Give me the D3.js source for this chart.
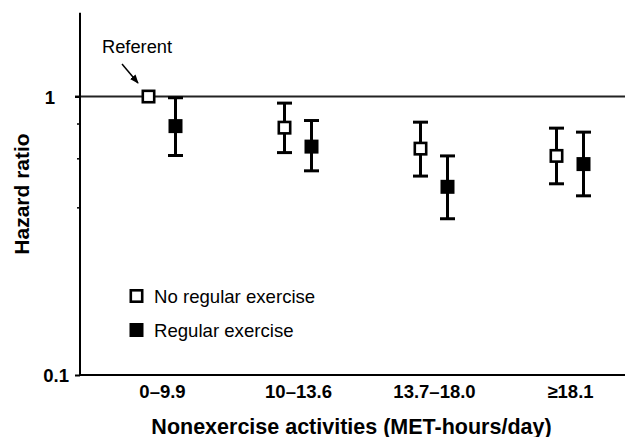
<!DOCTYPE html>
<html>
<head>
<meta charset="utf-8">
<script src="https://cdn.jsdelivr.net/npm/d3@7"></script>
<style>
  html, body { margin: 0; padding: 0; background: #fff; }
  svg { display: block; font-family: "Liberation Sans", Arial, sans-serif; }
</style>
</head>
<body>
<svg id="chart" width="628" height="437"></svg>
<script>
// ---- Data ----
const categories = ["0–9.9", "10–13.6", "13.7–18.0", "≥18.1"];
const noExerciseHR = [1.00, 0.773, 0.650, 0.612];
const noExerciseLow = [null, 0.629, 0.518, 0.486];
const noExerciseHigh = [null, 0.947, 0.809, 0.770];
const exerciseHR = [0.783, 0.661, 0.474, 0.572];
const exerciseLow = [0.614, 0.541, 0.364, 0.440];
const exerciseHigh = [0.990, 0.820, 0.612, 0.745];
const yTickValues = [0.1, 0.4, 0.6, 0.8, 1];
const yLabeled = [0.1, 1];
const seriesNames = ["No regular exercise", "Regular exercise"];

(function () {
// ---- Layout ----
const svg = d3.select("#chart");
const pLeft = 80, pRight = 625, pTop = 12.7, pBottom = 375;

const y = d3.scaleLog().domain([0.1, 2]).range([pBottom, pTop]);
const x = d3.scalePoint().domain(categories).range([pLeft + 82, pRight - 55]);
const offset = 13.5;

// Reference line at 1
svg.append("line")
  .attr("x1", pLeft - 5).attr("x2", pRight)
  .attr("y1", y(1)).attr("y2", y(1))
  .attr("stroke", "#222").attr("stroke-width", 2);

// Y axis
const yAxis = d3.axisLeft(y)
  .tickValues(yTickValues)
  .tickFormat(d => yLabeled.includes(d) ? d3.format("")(d) : "")
  .tickSizeOuter(0);
const gy = svg.append("g").attr("transform", `translate(${pLeft},0)`).call(yAxis);
gy.select(".domain").attr("stroke", "#000").attr("stroke-width", 2)
  .attr("d", `M0,${pTop}V${pBottom}`);
gy.selectAll(".tick line")
  .attr("stroke", "#000").attr("stroke-width", d => yLabeled.includes(d) ? 2 : 1.5)
  .attr("x2", d => yLabeled.includes(d) ? -5 : -3);
gy.selectAll(".tick text")
  .attr("font-size", 18.5).attr("font-weight", "bold").attr("fill", "#000")
  .attr("font-family", "Liberation Sans, Arial, sans-serif")
  .attr("x", d => d === 1 ? -25 : -11)
  .attr("dy", "0.36em");

// X axis line
svg.append("line")
  .attr("x1", pLeft - 1).attr("x2", pRight)
  .attr("y1", pBottom).attr("y2", pBottom)
  .attr("stroke", "#000").attr("stroke-width", 2);

const xAxis = d3.axisBottom(x).tickSize(0).tickPadding(0);
const gx = svg.append("g").attr("transform", `translate(0,${pBottom})`).call(xAxis);
gx.select(".domain").remove();
gx.selectAll(".tick text")
  .attr("font-size", 18.5).attr("font-weight", "bold").attr("fill", "#000")
  .attr("font-family", "Liberation Sans, Arial, sans-serif")
  .attr("dy", null).attr("y", 22.5);

// Axis titles
svg.append("text")
  .attr("x", (pLeft + pRight) / 2 - 1).attr("y", 433.5)
  .attr("text-anchor", "middle")
  .attr("font-size", 21.5).attr("font-weight", "bold")
  .text("Nonexercise activities (MET-hours/day)");

svg.append("text")
  .attr("transform", "translate(28.5,194) rotate(-90)")
  .attr("text-anchor", "middle")
  .attr("font-size", 21).attr("font-weight", "bold")
  .text("Hazard ratio");

// Error bars + markers
const capW = 15, sq = 14, sw = 3;
function drawSeries(hr, lo, hi, dx, filled) {
  const g = svg.append("g");
  categories.forEach((c, i) => {
    const cx = x(c) + dx;
    if (lo[i] != null && hi[i] != null) {
      g.append("line").attr("x1", cx).attr("x2", cx)
        .attr("y1", y(hi[i])).attr("y2", y(lo[i]))
        .attr("stroke", "#000").attr("stroke-width", sw);
      [lo[i], hi[i]].forEach(v => {
        g.append("line").attr("x1", cx - capW / 2).attr("x2", cx + capW / 2)
          .attr("y1", y(v)).attr("y2", y(v))
          .attr("stroke", "#000").attr("stroke-width", sw);
      });
    }
    if (filled) {
      g.append("rect").attr("x", cx - sq / 2).attr("y", y(hr[i]) - sq / 2)
        .attr("width", sq).attr("height", sq).attr("fill", "#000");
    } else {
      g.append("rect").attr("x", cx - (sq - 2.6) / 2).attr("y", y(hr[i]) - (sq - 2.6) / 2)
        .attr("width", sq - 2.6).attr("height", sq - 2.6)
        .attr("fill", "#fff").attr("stroke", "#000").attr("stroke-width", 2.6);
    }
  });
}
drawSeries(noExerciseHR, noExerciseLow, noExerciseHigh, -offset, false);
drawSeries(exerciseHR, exerciseLow, exerciseHigh, offset, true);

// Referent annotation
svg.append("defs").append("marker")
  .attr("id", "arrow").attr("viewBox", "0 0 10 10")
  .attr("refX", 9).attr("refY", 5)
  .attr("markerWidth", 6).attr("markerHeight", 6)
  .attr("orient", "auto")
  .append("path").attr("d", "M0,1L10,5L0,9Z").attr("fill", "#000");
svg.append("text").attr("x", 102).attr("y", 52.5)
  .attr("font-size", 18.3).text("Referent");
svg.append("line")
  .attr("x1", 122).attr("y1", 64).attr("x2", 138).attr("y2", 83)
  .attr("stroke", "#000").attr("stroke-width", 1.5)
  .attr("marker-end", "url(#arrow)");

// Legend
const legend = svg.append("g");
const legY = [296, 330];
seriesNames.forEach((name, i) => {
  if (i === 0) {
    legend.append("rect").attr("x", 136.5 - (sq - 2.6) / 2).attr("y", legY[i] - (sq - 2.6) / 2)
      .attr("width", sq - 2.6).attr("height", sq - 2.6)
      .attr("fill", "#fff").attr("stroke", "#000").attr("stroke-width", 2.6);
  } else {
    legend.append("rect").attr("x", 136.5 - sq / 2).attr("y", legY[i] - sq / 2)
      .attr("width", sq).attr("height", sq).attr("fill", "#000");
  }
  legend.append("text").attr("x", 154).attr("y", legY[i] + 6.5)
    .attr("font-size", 18.6).text(name);
});
})();
</script>
</body>
</html>
